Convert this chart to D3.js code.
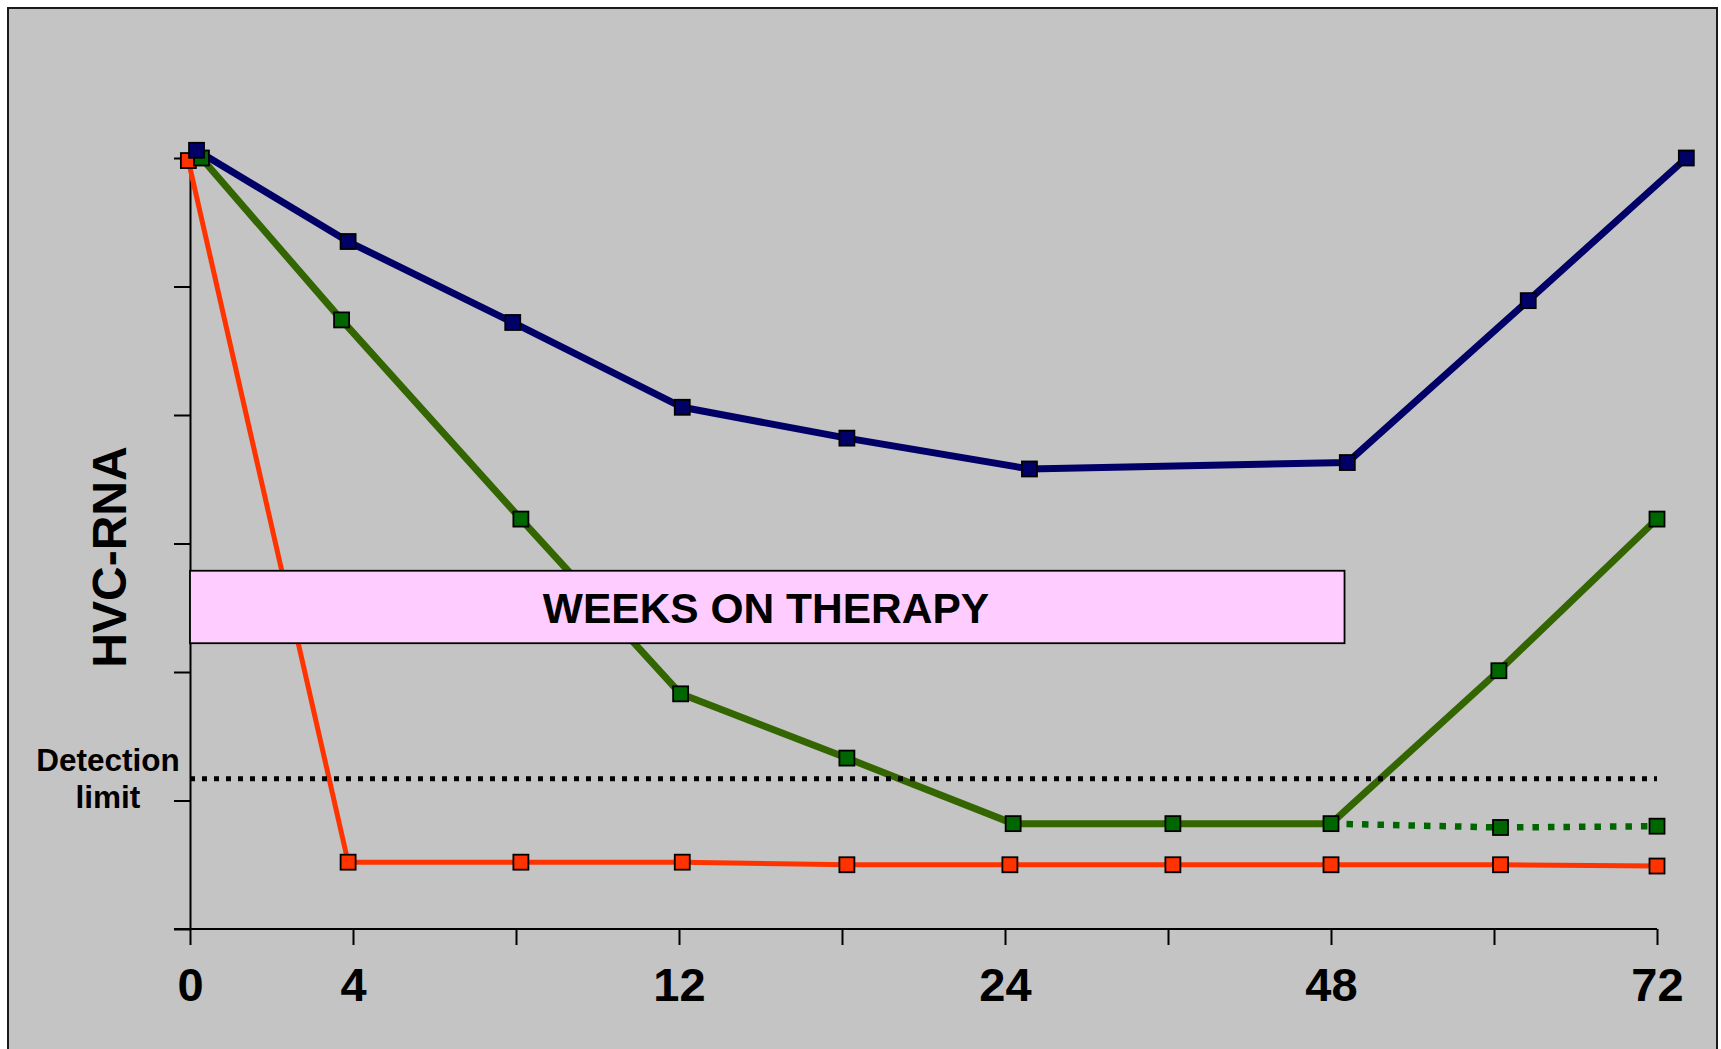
<!DOCTYPE html>
<html>
<head>
<meta charset="utf-8">
<script src="https://cdn.jsdelivr.net/npm/d3@7"></script>
<style>
  html, body { margin: 0; padding: 0; background: #ffffff; }
  svg { display: block; }
  text { font-family: "Liberation Sans", Arial, sans-serif; font-weight: bold; fill: #000; }
</style>
</head>
<body>
<svg id="chart" width="1721" height="1049"></svg>
<script>
// Week positions on the axis (evenly spaced slots) and their labels
const weekSlots = [0, 1, 2, 3, 4, 5, 6, 7, 8, 9];
const weekLabels = ["0", "4", "", "12", "", "24", "", "48", "", "72"];
// Log HCV-RNA levels, 0..6 (unlabelled ticks)
const levelTicks = [0, 1, 2, 3, 4, 5, 6];

// Non-responder: [slot, level]
const nonResponder = [[0.04, 6.06], [0.97, 5.35], [1.98, 4.72], [3.02, 4.06], [4.03, 3.82],
                      [5.15, 3.58], [7.10, 3.63], [8.21, 4.89], [9.18, 6.00]];
// Relapser (solid) with sustained branch (dotted)
const relapser = [[0.07, 6.00], [0.93, 4.74], [2.03, 3.19], [3.01, 1.83], [4.03, 1.33],
                  [5.05, 0.82], [6.03, 0.82], [7.00, 0.82], [8.03, 2.01], [9.00, 3.19]];
const relapserSustained = [[7.00, 0.82], [8.04, 0.79], [9.00, 0.80]];
// Rapid responder
const rapidResponder = [[-0.01, 5.98], [0.97, 0.52], [2.03, 0.52], [3.02, 0.52], [4.03, 0.50],
                        [5.03, 0.50], [6.03, 0.50], [7.00, 0.50], [8.04, 0.50], [9.00, 0.49]];
const detectionLimit = 1.17;

const svg = d3.select("#chart");

// Panel frame
svg.append("rect")
  .attr("x", 8).attr("y", 8).attr("width", 1709).attr("height", 1100)
  .attr("fill", "#c4c4c4").attr("stroke", "#1a1a1a").attr("stroke-width", 2);

const x = d3.scaleLinear().domain([0, 9]).range([190, 1657]);
const y = d3.scaleLinear().domain([0, 6]).range([929, 158]);

// Axes
const yAxis = d3.axisLeft(y).tickValues(levelTicks).tickSize(16).tickSizeOuter(0).tickFormat("");
const gy = svg.append("g").attr("transform", `translate(${x(0)},0)`).call(yAxis);
gy.selectAll("path, line").attr("stroke", "#000").attr("stroke-width", 2);

const xAxis = d3.axisBottom(x).tickValues(weekSlots).tickSize(16).tickSizeOuter(0)
  .tickFormat((d, i) => weekLabels[i]);
const gx = svg.append("g").attr("transform", `translate(0,${y(0)})`).call(xAxis);
gx.selectAll("path, line").attr("stroke", "#000").attr("stroke-width", 2);
gx.select(".domain").attr("d", `M${x(0) - 16},0H${x(9)}`);
gx.selectAll("text")
  .attr("y", 72).attr("dy", 0)
  .attr("font-size", 47).attr("font-family", '"Liberation Sans", Arial, sans-serif')
  .attr("font-weight", "bold").attr("fill", "#000");

// Y axis title
svg.append("text")
  .attr("transform", "translate(126,557) rotate(-90)")
  .attr("text-anchor", "middle")
  .attr("font-size", 48)
  .text("HVC-RNA");

// Detection limit label
const det = svg.append("text").attr("text-anchor", "middle").attr("font-size", 31.5);
det.append("tspan").attr("x", 108).attr("y", 771).text("Detection");
det.append("tspan").attr("x", 108).attr("y", 808).text("limit");

const line = d3.line().x(d => x(d[0])).y(d => y(d[1]));

// Series lines
svg.append("path").datum(rapidResponder).attr("d", line)
  .attr("fill", "none").attr("stroke", "#ff3300").attr("stroke-width", 5).attr("stroke-linejoin", "round");
svg.append("path").datum(relapserSustained).attr("d", line)
  .attr("fill", "none").attr("stroke", "#006600").attr("stroke-width", 6.5).attr("stroke-dasharray", "6.5,9");
svg.append("path").datum(relapser).attr("d", line)
  .attr("fill", "none").attr("stroke", "#336600").attr("stroke-width", 7).attr("stroke-linejoin", "round");
svg.append("path").datum(nonResponder).attr("d", line)
  .attr("fill", "none").attr("stroke", "#000066").attr("stroke-width", 7).attr("stroke-linejoin", "round");

// Detection limit
svg.append("path").datum([[0, detectionLimit], [9, detectionLimit]]).attr("d", line)
  .attr("fill", "none").attr("stroke", "#000").attr("stroke-width", 5).attr("stroke-dasharray", "5,7");

// Markers
function markers(data, fill) {
  svg.append("g").selectAll("rect").data(data).join("rect")
    .attr("x", d => x(d[0]) - 7.5).attr("y", d => y(d[1]) - 7.5)
    .attr("width", 15).attr("height", 15)
    .attr("fill", fill).attr("stroke", "#000").attr("stroke-width", 1.8);
}
markers(rapidResponder, "#ff3300");
markers(relapserSustained.slice(1), "#006600");
markers(relapser, "#006600");
markers(nonResponder, "#000066");

// Therapy duration box
const box = { x0: 0, x1: 7.083, top: 2.788, bottom: 2.224 };
svg.append("rect")
  .attr("x", x(box.x0)).attr("y", y(box.top))
  .attr("width", x(box.x1) - x(box.x0)).attr("height", y(box.bottom) - y(box.top))
  .attr("fill", "#ffccff").attr("stroke", "#000").attr("stroke-width", 1.8);
svg.append("text")
  .attr("x", 766).attr("y", 623).attr("text-anchor", "middle").attr("font-size", 42.5)
  .text("WEEKS ON THERAPY");
</script>
</body>
</html>
